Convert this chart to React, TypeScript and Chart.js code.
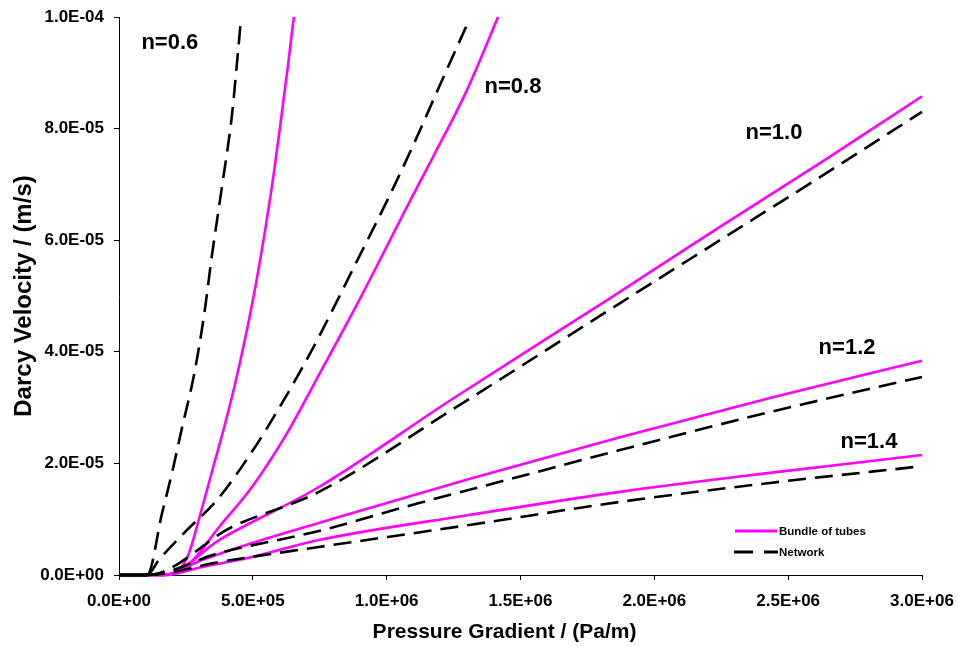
import React, { useEffect, useRef } from "react";
import { Chart, registerables } from "chart.js";
Chart.register(...registerables);

// ---------- tick labels ----------
const xTickLabels = ["0.0E+00", "5.0E+05", "1.0E+06", "1.5E+06", "2.0E+06", "2.5E+06", "3.0E+06"];
const yTickLabels = ["0.0E+00", "2.0E-05", "4.0E-05", "6.0E-05", "8.0E-05", "1.0E-04"];

// ---------- Bundle of tubes (magenta, solid) ----------
const bundle06X = [0, 1.72e5, 2.54e5, 3.03e5, 3.47e5, 3.92e5, 4.33e5, 4.74e5, 5.12e5, 5.49e5, 5.79e5, 6.05e5, 6.31e5, 6.54e5, 6.61e5];
const bundle06Y = [0, 0, 3.05e-6, 1.075e-5, 1.846e-5, 2.63e-5, 3.41e-5, 4.30e-5, 5.23e-5, 6.27e-5, 7.22e-5, 8.15e-5, 9.12e-5, 1.0e-4, 1.016e-4];

const bundle08X = [0, 1.72e5, 2.69e5, 3.74e5, 4.97e5, 6.24e5, 7.36e5, 9.0e5, 1.087e6, 1.173e6, 1.30e6, 1.416e6, 1.427e6];
const bundle08Y = [0, 0, 2.33e-6, 8.6e-6, 1.577e-5, 2.51e-5, 3.49e-5, 4.95e-5, 6.70e-5, 7.49e-5, 8.69e-5, 1.0e-4, 1.013e-4];

const bundle10X = [0, 1.72e5, 3.74e5, 7.47e5, 1.244e6, 1.831e6, 2.245e6, 2.619e6, 3.0e6];
const bundle10Y = [0, 0, 6.27e-6, 1.577e-5, 3.15e-5, 4.95e-5, 6.24e-5, 7.38e-5, 8.58e-5];

const bundle12X = [0, 1.62e5, 3.10e5, 4.97e5, 7.47e5, 1.308e6, 1.872e6, 2.432e6, 3.0e6];
const bundle12Y = [0, 0, 2.69e-6, 5.73e-6, 9.32e-6, 1.72e-5, 2.47e-5, 3.17e-5, 3.84e-5];

const bundle14X = [0, 1.72e5, 3.10e5, 4.97e5, 7.47e5, 1.308e6, 1.872e6, 2.432e6, 3.0e6];
const bundle14Y = [0, 0, 1.43e-6, 3.23e-6, 6.27e-6, 1.075e-5, 1.49e-5, 1.83e-5, 2.15e-5];

// ---------- Network (black, dashed) ----------
const network06X = [0, 1.05e5, 1.61e5, 1.98e5, 2.35e5, 2.80e5, 3.18e5, 3.47e5, 3.85e5, 4.22e5, 4.41e5, 4.56e5];
const network06Y = [0, 0, 1.11e-5, 1.83e-5, 2.63e-5, 3.58e-5, 4.66e-5, 5.72e-5, 6.97e-5, 8.24e-5, 9.19e-5, 9.98e-5];

const network08X = [0, 1.05e5, 1.49e5, 2.54e5, 3.66e5, 5.01e5, 6.09e5, 6.76e5, 7.47e5, 8.80e5, 1.012e6, 1.098e6, 1.199e6, 1.30e6];
const network08Y = [0, 0, 2.69e-6, 8.06e-6, 1.344e-5, 2.24e-5, 3.08e-5, 3.64e-5, 4.27e-5, 5.54e-5, 6.81e-5, 7.69e-5, 8.78e-5, 9.86e-5];

const network10X = [0, 1.05e5, 4.22e5, 7.47e5, 1.244e6, 1.868e6, 2.245e6, 2.619e6, 3.0e6];
const network10Y = [0, 0, 8.6e-6, 1.49e-5, 2.96e-5, 4.86e-5, 6.0e-5, 7.13e-5, 8.30e-5];

const network12X = [0, 1.05e5, 3.74e5, 7.47e5, 1.121e6, 1.494e6, 1.872e6, 2.432e6, 3.0e6];
const network12Y = [0, 0, 3.94e-6, 7.9e-6, 1.29e-5, 1.76e-5, 2.24e-5, 2.92e-5, 3.55e-5];

const network14X = [0, 1.05e5, 3.74e5, 7.47e5, 1.308e6, 1.872e6, 2.432e6, 3.0e6];
const network14Y = [0, 0, 2.33e-6, 5.02e-6, 8.96e-6, 1.31e-5, 1.65e-5, 1.95e-5];

// ---------- curve annotations ----------
const curveLabels = ["n=0.6", "n=0.8", "n=1.0", "n=1.2", "n=1.4"];
const curveLabelX = [1.9e5, 1.472e6, 2.447e6, 2.72e6, 2.802e6];
const curveLabelY = [9.53e-5, 8.75e-5, 7.92e-5, 4.07e-5, 2.38e-5];

const legendLabels = ["Bundle of tubes", "Network"];
const xTitle = "Pressure Gradient / (Pa/m)";
const yTitle = "Darcy Velocity / (m/s)";

const FONT = '"Liberation Sans", Arial, Helvetica, sans-serif';
const MAGENTA = "#FF00FF";
const DASH = [18, 9];

const toPts = (xs: number[], ys: number[]) => xs.map((x, i) => ({ x, y: ys[i] }));

const networkDS = (label: string, xs: number[], ys: number[]) => ({
  label,
  data: toPts(xs, ys),
  borderColor: "#000000",
  borderWidth: 2.6,
  borderDash: DASH,
  pointRadius: 0,
  cubicInterpolationMode: "monotone" as const,
  clip: { left: 5, top: 0, right: 5, bottom: 5 },
  segment: {
    borderDash: (ctx: any) => (ctx.p0.parsed.y === 0 && ctx.p1.parsed.y === 0 ? [] : DASH),
  },
});

const bundleDS = (label: string, xs: number[], ys: number[]) => ({
  label,
  data: toPts(xs, ys),
  borderColor: MAGENTA,
  borderWidth: 2.6,
  pointRadius: 0,
  cubicInterpolationMode: "monotone" as const,
  clip: { left: 5, top: 0, right: 5, bottom: 5 },
});

const annotPlugin = {
  id: "annot",
  afterDatasetsDraw(chart: any) {
    const { ctx, scales, chartArea } = chart;
    const xs = scales.x;
    const ys = scales.y;
    ctx.save();
    ctx.fillStyle = "#000";
    ctx.textAlign = "center";
    ctx.textBaseline = "middle";
    ctx.font = `bold 22px ${FONT}`;
    curveLabels.forEach((t, i) => {
      ctx.fillText(t, xs.getPixelForValue(curveLabelX[i]), ys.getPixelForValue(curveLabelY[i]));
    });

    // x-axis title (slightly left of centre, as in the reference)
    ctx.font = `bold 21px ${FONT}`;
    ctx.fillText(xTitle, (chartArea.left + chartArea.right) / 2 - 16, chartArea.bottom + 57);

    // legend
    const lx0 = chartArea.right - 187;
    const lx1 = chartArea.right - 145;
    const ly0 = chartArea.bottom - 44;
    const ly1 = chartArea.bottom - 23;
    ctx.lineWidth = 3;
    ctx.strokeStyle = MAGENTA;
    ctx.setLineDash([]);
    ctx.beginPath();
    ctx.moveTo(lx0, ly0);
    ctx.lineTo(lx1, ly0);
    ctx.stroke();
    ctx.strokeStyle = "#000";
    ctx.setLineDash([19, 11]);
    ctx.beginPath();
    ctx.moveTo(lx0 - 1, ly1);
    ctx.lineTo(lx1 + 1, ly1);
    ctx.stroke();
    ctx.setLineDash([]);
    ctx.textAlign = "left";
    ctx.font = `bold 11.5px ${FONT}`;
    ctx.fillText(legendLabels[0], lx1 + 2, ly0 + 0.5);
    ctx.fillText(legendLabels[1], lx1 + 2, ly1 + 0.5);
    ctx.restore();
  },
};

export default function App() {
  const ref = useRef<HTMLCanvasElement | null>(null);
  useEffect(() => {
    if (!ref.current) return;
    const chart = new Chart(ref.current, {
      type: "line",
      data: {
        datasets: [
          networkDS("Network n=0.6", network06X, network06Y),
          networkDS("Network n=0.8", network08X, network08Y),
          networkDS("Network n=1.0", network10X, network10Y),
          networkDS("Network n=1.2", network12X, network12Y),
          networkDS("Network n=1.4", network14X, network14Y),
          bundleDS("Bundle n=0.6", bundle06X, bundle06Y),
          bundleDS("Bundle n=0.8", bundle08X, bundle08Y),
          bundleDS("Bundle n=1.0", bundle10X, bundle10Y),
          bundleDS("Bundle n=1.2", bundle12X, bundle12Y),
          bundleDS("Bundle n=1.4", bundle14X, bundle14Y),
        ] as any,
      },
      options: {
        responsive: false,
        maintainAspectRatio: false,
        animation: false,
        devicePixelRatio: 1,
        layout: { padding: { top: 17, right: 36, left: 0, bottom: 0 } },
        plugins: { legend: { display: false }, tooltip: { enabled: false } },
        scales: {
          x: {
            type: "linear",
            min: 0,
            max: 3e6,
            afterFit: (s: any) => {
              s.height = 72;
              s.paddingLeft = 0;
              s.paddingRight = 0;
            },
            ticks: {
              stepSize: 5e5,
              autoSkip: false,
              maxRotation: 0,
              padding: 11,
              color: "#000",
              font: { family: FONT, size: 17, weight: "bold" },
              callback: (_v: any, i: number) => xTickLabels[i],
            },
            grid: { display: true, drawOnChartArea: false, drawTicks: true, tickLength: 5, color: "#000" },
            border: { display: true, color: "#000", width: 1 },
            title: { display: false },
          },
          y: {
            type: "linear",
            min: 0,
            max: 1e-4,
            afterFit: (s: any) => {
              s.width = 119;
              s.paddingTop = 0;
              s.paddingBottom = 0;
            },
            ticks: {
              stepSize: 2e-5,
              autoSkip: false,
              padding: 10,
              color: "#000",
              font: { family: FONT, size: 17, weight: "bold" },
              callback: (_v: any, i: number) => yTickLabels[i],
            },
            grid: { display: true, drawOnChartArea: false, drawTicks: true, tickLength: 5, color: "#000" },
            border: { display: true, color: "#000", width: 1 },
            title: {
              display: true,
              text: yTitle,
              color: "#000",
              font: { family: FONT, size: 24, weight: "bold" },
              padding: { top: 9.6, bottom: 0 },
            },
          },
        },
      },
      plugins: [annotPlugin],
    } as any);
    return () => chart.destroy();
  }, []);
  return (
    <div style={{ position: "fixed", left: 0, top: 0, width: 958, height: 647, background: "#fff" }}>
      <canvas ref={ref} width={958} height={647} style={{ display: "block" }} />
    </div>
  );
}
